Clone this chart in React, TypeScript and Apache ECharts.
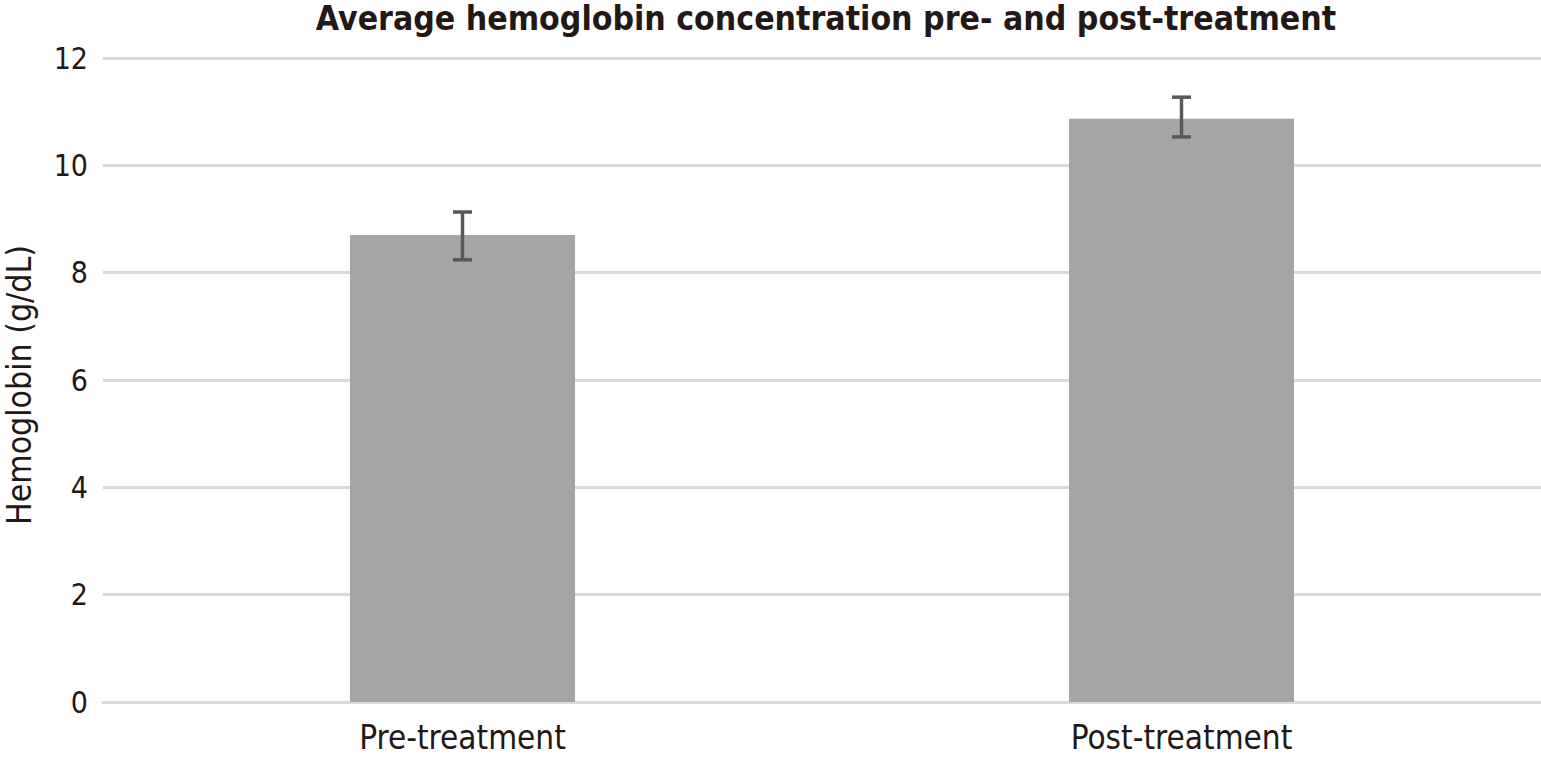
import React, { useEffect, useRef } from "react";
import * as echarts from "echarts";

const categories = ["Pre-treatment", "Post-treatment"];
const means = [8.7, 10.87];
const errLow = [8.24, 10.53];
const errHigh = [9.13, 11.27];
const yTicks = { min: 0, max: 12, interval: 2 };

const FONT = "'DejaVu Sans Condensed', 'DejaVu Sans', sans-serif";

export default function App() {
  const ref = useRef<HTMLDivElement>(null);
  useEffect(() => {
    if (!ref.current) return;
    const chart = echarts.init(ref.current, null, { renderer: "svg" });
    chart.setOption({
      animation: false,
      title: {
        text: "Average hemoglobin concentration pre- and post-treatment",
        left: 821,
        textAlign: "center",
        top: -4,
        textStyle: { fontFamily: FONT, fontWeight: "bold", fontSize: 33.5, color: "#231815" },
      },
      grid: { left: 103, right: 0, top: 58, bottom: 61, outerBoundsMode: "none" },
      xAxis: {
        type: "category",
        data: categories,
        axisLine: { show: true, lineStyle: { color: "#d9d9d9", width: 3 } },
        axisTick: { show: false },
        axisLabel: { fontFamily: FONT, fontSize: 33, color: "#231815", margin: 19 },
      },
      yAxis: {
        type: "value",
        min: yTicks.min,
        max: yTicks.max,
        interval: yTicks.interval,
        name: "Hemoglobin (g/dL)",
        nameLocation: "middle",
        nameGap: 67,
        nameRotate: 90,
        nameTextStyle: { fontFamily: FONT, fontSize: 33.5, color: "#231815", padding: [0, 10, 0, 0] },
        axisLine: { show: false },
        axisTick: { show: false },
        axisLabel: { fontFamily: FONT, fontSize: 30, color: "#231815", margin: 15 },
        splitLine: { lineStyle: { color: "#d9d9d9", width: 3 } },
      },
      series: [
        {
          type: "bar",
          data: means,
          barWidth: "31.3%",
          itemStyle: { color: "#a5a5a5" },
        },
        {
          type: "custom",
          data: categories.map((_, i) => [i, errLow[i], errHigh[i]]),
          renderItem: (params: any, api: any) => {
            const x = api.value(0);
            const lo = api.coord([x, api.value(1)]);
            const hi = api.coord([x, api.value(2)]);
            const half = 9.5;
            const style = { stroke: "#595959", lineWidth: 3.5 };
            return {
              type: "group",
              children: [
                { type: "line", shape: { x1: lo[0], y1: lo[1], x2: hi[0], y2: hi[1] }, style },
                { type: "line", shape: { x1: hi[0] - half, y1: hi[1], x2: hi[0] + half, y2: hi[1] }, style },
                { type: "line", shape: { x1: lo[0] - half, y1: lo[1], x2: lo[0] + half, y2: lo[1] }, style },
              ],
            };
          },
          z: 10,
        },
      ],
    });
    return () => chart.dispose();
  }, []);
  return <div ref={ref} style={{ width: 1541, height: 763, position: "absolute", left: 0, top: 0 }} />;
}
